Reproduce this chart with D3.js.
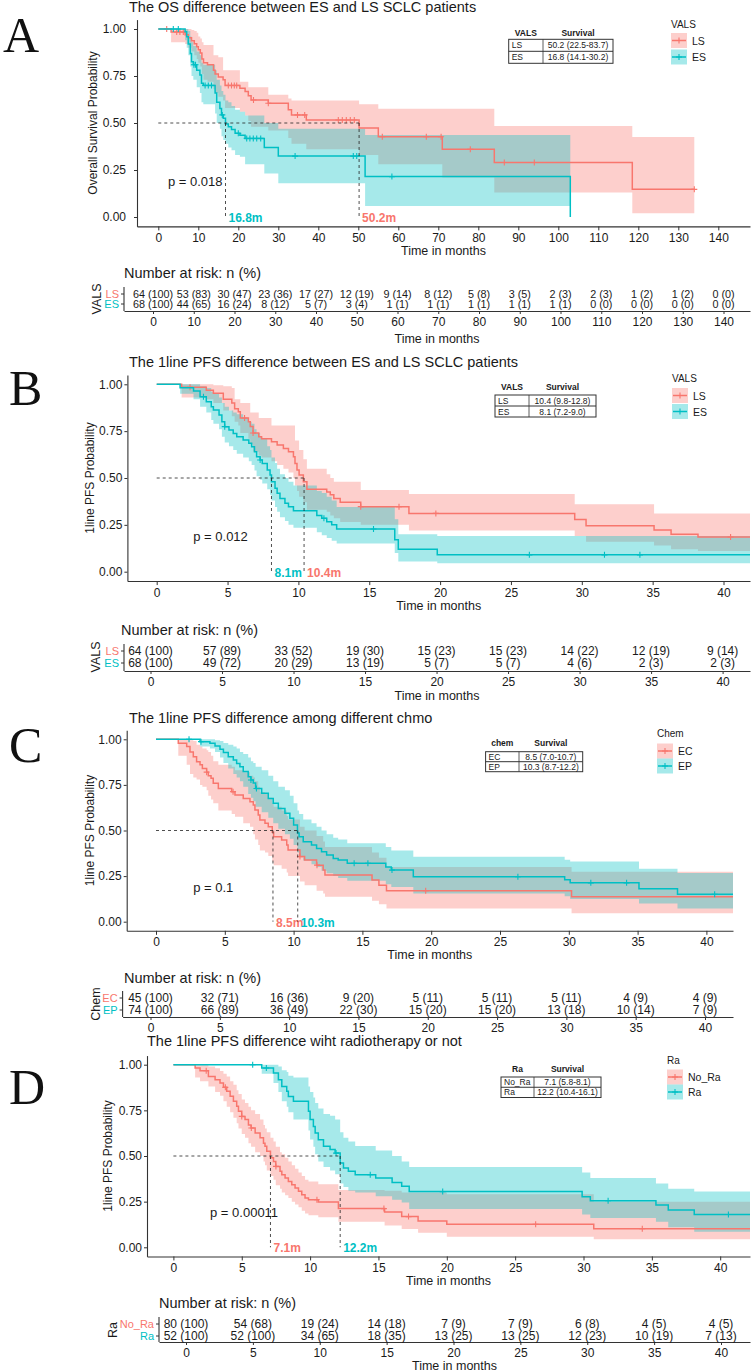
<!DOCTYPE html>
<html>
<head>
<meta charset="utf-8">
<script src="https://cdn.jsdelivr.net/npm/d3@7"></script>
<style>
  body { margin: 0; background: #fff; }
  svg { display: block; }
  text { font-family: "Liberation Sans", Arial, Helvetica, sans-serif; fill: #1a1a1a; }
</style>
</head>
<body>
<svg id="chart" width="752" height="1372"></svg>
<script>
// ---------- data: panel A, OS by stage ----------
var aTicks = [0, 10, 20, 30, 40, 50, 60, 70, 80, 90, 100, 110, 120, 130, 140];
var aGroups = ["LS", "ES"];
var aMedian = [50.2, 16.8];
var aMedianText = ["50.2 (22.5-83.7)", "16.8 (14.1-30.2)"];
var aLsTime = [0, 3.2, 6.7, 7.5, 8.3, 9.0, 9.6, 10.0, 10.5, 10.9, 11.3, 12.3, 13.8, 14.2, 15.0, 16.2, 16.7, 20.4, 21.7, 22.5, 23.2, 27.5, 32.5, 33.3, 37.0, 50.2, 55.0, 71.0, 84.0, 118.5];
var aLsSurv = [1, 0.984, 0.969, 0.953, 0.937, 0.921, 0.905, 0.889, 0.873, 0.84, 0.82, 0.81, 0.78, 0.76, 0.745, 0.73, 0.70, 0.685, 0.667, 0.645, 0.622, 0.605, 0.57, 0.543, 0.516, 0.473, 0.427, 0.36, 0.29, 0.147];
var aLsLow = [1, 0.93, 0.92, 0.90, 0.88, 0.86, 0.84, 0.82, 0.80, 0.76, 0.73, 0.72, 0.68, 0.66, 0.64, 0.62, 0.58, 0.56, 0.54, 0.51, 0.48, 0.46, 0.42, 0.39, 0.36, 0.33, 0.28, 0.21, 0.13, 0.02];
var aLsUp = [1, 1, 1, 1, 0.995, 0.99, 0.98, 0.96, 0.95, 0.93, 0.915, 0.915, 0.86, 0.86, 0.85, 0.78, 0.78, 0.72, 0.72, 0.69, 0.69, 0.65, 0.63, 0.62, 0.62, 0.60, 0.576, 0.576, 0.484, 0.425];
var aLsEnd = 134;
var aLsCens = [2.1, 4.6, 5.4, 6.25, 17.5, 18.3, 19.0, 19.6, 23.8, 27.5, 34.8, 36.6, 45, 46, 47, 48, 49, 56, 67, 70.7, 78, 86.5, 94, 134];
var aEsTime = [0, 6.7, 7.1, 7.5, 8.0, 8.3, 8.75, 9.6, 10.4, 10.8, 11.25, 14.2, 14.6, 15.4, 15.8, 16.25, 16.8, 17.5, 18.3, 19.2, 20.4, 21.7, 26.5, 30.0, 51.7, 103];
var aEsSurv = [1, 0.985, 0.959, 0.92, 0.87, 0.826, 0.81, 0.78, 0.755, 0.711, 0.70, 0.66, 0.61, 0.577, 0.543, 0.525, 0.495, 0.48, 0.465, 0.445, 0.435, 0.418, 0.37, 0.324, 0.215, 0];
var aEsLow = [1, 0.94, 0.90, 0.86, 0.80, 0.75, 0.73, 0.69, 0.66, 0.61, 0.60, 0.55, 0.50, 0.47, 0.43, 0.41, 0.39, 0.37, 0.355, 0.33, 0.32, 0.28, 0.232, 0.18, 0.058, null];
var aEsUp = [1, 1, 1, 0.99, 0.96, 0.93, 0.91, 0.88, 0.86, 0.82, 0.81, 0.78, 0.73, 0.70, 0.67, 0.65, 0.62, 0.61, 0.59, 0.57, 0.56, 0.54, 0.50, 0.47, 0.436, null];
var aEsEnd = 103;
var aEsCens = [3.75, 5.0, 8.9, 9.3, 11.7, 12.5, 13.3, 16.0, 20.0, 22.1, 22.9, 23.75, 24.6, 25.6, 34.2, 48.75, 49.6, 58.4];
var aRiskTimes = [0, 10, 20, 30, 40, 50, 60, 70, 80, 90, 100, 110, 120, 130, 140];
var aRiskLsN = [64, 53, 30, 23, 17, 12, 9, 8, 5, 3, 2, 2, 1, 1, 0];
var aRiskLsPct = [100, 83, 47, 36, 27, 19, 14, 12, 8, 5, 3, 3, 2, 2, 0];
var aRiskEsN = [68, 44, 16, 8, 5, 3, 1, 1, 1, 1, 1, 0, 0, 0, 0];
var aRiskEsPct = [100, 65, 24, 12, 7, 4, 1, 1, 1, 1, 1, 0, 0, 0, 0];

// ---------- data: panel B, 1line PFS by stage ----------
var bTicks = [0, 5, 10, 15, 20, 25, 30, 35, 40];
var bGroups = ["LS", "ES"];
var bMedian = [10.4, 8.1];
var bMedianText = ["10.4 (9.8-12.8)", "8.1 (7.2-9.0)"];
var bLsTime = [0, 1.76, 3.5, 4.0, 4.7, 5.3, 5.5, 5.76, 5.9, 6.47, 6.6, 6.8, 7.2, 7.4, 8.1, 8.5, 8.94, 9.3, 9.65, 9.76, 9.9, 10.05, 10.35, 10.6, 12.0, 12.25, 12.5, 12.95, 14.4, 17.8, 29.5, 30.3, 35.1, 36.3, 38.2];
var bLsSurv = [1, 0.984, 0.968, 0.952, 0.92, 0.90, 0.87, 0.854, 0.82, 0.80, 0.775, 0.74, 0.72, 0.71, 0.694, 0.676, 0.658, 0.64, 0.614, 0.578, 0.543, 0.516, 0.48, 0.44, 0.425, 0.41, 0.39, 0.37, 0.347, 0.311, 0.278, 0.245, 0.222, 0.20, 0.185];
var bLsLow = [1, 0.93, 0.92, 0.90, 0.86, 0.83, 0.80, 0.78, 0.74, 0.71, 0.68, 0.64, 0.62, 0.61, 0.59, 0.57, 0.55, 0.53, 0.50, 0.46, 0.43, 0.40, 0.37, 0.33, 0.32, 0.30, 0.285, 0.265, 0.25, 0.22, 0.19, 0.16, 0.14, 0.12, 0.11];
var bLsUp = [1, 1, 1, 0.995, 0.99, 0.98, 0.92, 0.92, 0.90, 0.90, 0.85, 0.85, 0.82, 0.82, 0.78, 0.78, 0.78, 0.78, 0.78, 0.70, 0.70, 0.65, 0.60, 0.55, 0.52, 0.50, 0.48, 0.48, 0.436, 0.415, 0.36, 0.36, 0.31, 0.31, 0.31];
var bLsEnd = 43;
var bLsCens = [2.35, 6.2, 6.8, 14.4, 17.1, 19.7, 40.5];
var bEsTime = [0, 1.65, 2.6, 3.06, 3.5, 3.85, 4.0, 4.4, 4.6, 4.8, 5.1, 5.4, 5.65, 6.1, 6.5, 6.7, 6.9, 7.05, 7.3, 7.45, 7.8, 8.0, 8.1, 8.35, 8.5, 8.7, 9.05, 9.3, 9.65, 11.3, 11.65, 12.0, 12.35, 12.7, 16.8, 17.05, 19.8];
var bEsSurv = [1, 0.982, 0.964, 0.934, 0.907, 0.88, 0.863, 0.836, 0.80, 0.774, 0.756, 0.738, 0.72, 0.703, 0.685, 0.667, 0.64, 0.614, 0.596, 0.578, 0.543, 0.516, 0.48, 0.445, 0.418, 0.39, 0.365, 0.347, 0.325, 0.30, 0.285, 0.267, 0.25, 0.228, 0.17, 0.12, 0.09];
var bEsLow = [1, 0.95, 0.92, 0.88, 0.85, 0.81, 0.79, 0.76, 0.72, 0.69, 0.67, 0.65, 0.63, 0.61, 0.59, 0.57, 0.54, 0.51, 0.49, 0.47, 0.44, 0.41, 0.38, 0.345, 0.32, 0.29, 0.27, 0.25, 0.235, 0.21, 0.195, 0.18, 0.165, 0.15, 0.10, 0.055, 0.045];
var bEsUp = [1, 1, 1, 0.99, 0.98, 0.96, 0.95, 0.93, 0.90, 0.88, 0.86, 0.85, 0.84, 0.82, 0.80, 0.79, 0.76, 0.74, 0.72, 0.71, 0.67, 0.65, 0.61, 0.58, 0.55, 0.52, 0.50, 0.48, 0.46, 0.43, 0.42, 0.40, 0.38, 0.345, 0.28, 0.20, 0.19];
var bEsEnd = 43;
var bEsCens = [3.3, 4.8, 7.3, 11.8, 15.3, 26.3, 31.6, 34.1];
var bRiskTimes = [0, 5, 10, 15, 20, 25, 30, 35, 40];
var bRiskLsN = [64, 57, 33, 19, 15, 15, 14, 12, 9];
var bRiskLsPct = [100, 89, 52, 30, 23, 23, 22, 19, 14];
var bRiskEsN = [68, 49, 20, 13, 5, 5, 4, 2, 2];
var bRiskEsPct = [100, 72, 29, 19, 7, 7, 6, 3, 3];

// ---------- data: panel C, 1line PFS by chemo ----------
var cTicks = [0, 5, 10, 15, 20, 25, 30, 35, 40];
var cGroups = ["EC", "EP"];
var cMedian = [8.5, 10.3];
var cMedianText = ["8.5 (7.0-10.7)", "10.3 (8.7-12.2)"];
var cEcTime = [0, 1.62, 2.23, 2.47, 2.71, 2.95, 3.2, 3.37, 3.68, 3.8, 4.0, 4.16, 4.53, 5.5, 5.74, 6.34, 6.83, 7.07, 7.19, 7.43, 7.55, 7.92, 8.16, 8.45, 8.55, 9.13, 9.5, 9.6, 10.46, 10.8, 11.67, 12.15, 12.28, 15.7, 16.2, 16.75, 30.2];
var cEcSurv = [1, 0.978, 0.96, 0.93, 0.905, 0.877, 0.86, 0.84, 0.82, 0.80, 0.786, 0.759, 0.73, 0.713, 0.695, 0.676, 0.658, 0.64, 0.612, 0.585, 0.558, 0.54, 0.52, 0.49, 0.466, 0.448, 0.42, 0.393, 0.357, 0.338, 0.31, 0.283, 0.256, 0.228, 0.20, 0.17, 0.137];
var cEcLow = [1, 0.91, 0.86, 0.81, 0.79, 0.78, 0.75, 0.74, 0.72, 0.69, 0.67, 0.65, 0.61, 0.59, 0.576, 0.54, 0.52, 0.48, 0.45, 0.42, 0.39, 0.38, 0.36, 0.33, 0.31, 0.29, 0.27, 0.25, 0.22, 0.20, 0.17, 0.155, 0.137, 0.115, 0.095, 0.073, 0.046];
var cEcUp = [1, 1, 1, 0.995, 0.99, 0.97, 0.96, 0.95, 0.94, 0.93, 0.91, 0.88, 0.86, 0.85, 0.83, 0.82, 0.80, 0.79, 0.77, 0.74, 0.71, 0.70, 0.68, 0.65, 0.63, 0.61, 0.58, 0.56, 0.52, 0.50, 0.47, 0.44, 0.41, 0.38, 0.35, 0.30, 0.274];
var cEcEnd = 43;
var cEcCens = [3.68, 5.6, 10.46, 11.7, 19.6];
var cEpTime = [0, 3.2, 3.92, 4.29, 4.65, 4.9, 5.25, 5.62, 5.86, 6.1, 6.34, 6.7, 6.9, 7.07, 7.24, 7.68, 8.16, 8.52, 8.89, 9.37, 9.73, 10.0, 10.28, 10.4, 10.7, 11.3, 11.67, 12.03, 12.4, 12.88, 13.24, 13.9, 16.7, 17.1, 18.7, 29.7, 30.1, 35.1, 37.9];
var cEpSurv = [1, 0.987, 0.978, 0.963, 0.945, 0.927, 0.905, 0.887, 0.868, 0.85, 0.823, 0.795, 0.777, 0.76, 0.73, 0.704, 0.676, 0.649, 0.62, 0.594, 0.567, 0.53, 0.486, 0.466, 0.439, 0.42, 0.402, 0.384, 0.366, 0.347, 0.338, 0.32, 0.30, 0.283, 0.247, 0.23, 0.213, 0.18, 0.15];
var cEpLow = [1, 0.96, 0.95, 0.93, 0.90, 0.87, 0.84, 0.81, 0.79, 0.77, 0.74, 0.70, 0.68, 0.66, 0.63, 0.60, 0.57, 0.54, 0.51, 0.48, 0.455, 0.42, 0.38, 0.36, 0.335, 0.315, 0.30, 0.28, 0.265, 0.25, 0.24, 0.225, 0.205, 0.19, 0.155, 0.14, 0.125, 0.10, 0.073];
var cEpUp = [1, 1, 1, 0.995, 0.99, 0.98, 0.97, 0.96, 0.95, 0.93, 0.92, 0.90, 0.88, 0.87, 0.85, 0.83, 0.80, 0.77, 0.74, 0.72, 0.69, 0.65, 0.61, 0.59, 0.56, 0.54, 0.52, 0.50, 0.48, 0.46, 0.45, 0.43, 0.41, 0.39, 0.356, 0.34, 0.33, 0.29, 0.267];
var cEpEnd = 43;
var cEpCens = [2.4, 3.27, 6.9, 7.3, 14.4, 15.4, 17.15, 26.3, 31.6, 34.2, 40.6];
var cRiskTimes = [0, 5, 10, 15, 20, 25, 30, 35, 40];
var cRiskEcN = [45, 32, 16, 9, 5, 5, 5, 4, 4];
var cRiskEcPct = [100, 71, 36, 20, 11, 11, 11, 9, 9];
var cRiskEpN = [74, 66, 36, 22, 15, 15, 13, 10, 7];
var cRiskEpPct = [100, 89, 49, 30, 20, 20, 18, 14, 9];

// ---------- data: panel D, 1line PFS by radiotherapy ----------
var dTicks = [0, 5, 10, 15, 20, 25, 30, 35, 40];
var dGroups = ["No_Ra", "Ra"];
var dMedian = [7.1, 12.2];
var dMedianText = ["7.1 (5.8-8.1)", "12.2 (10.4-16.1)"];
var dNoTime = [0, 1.59, 1.95, 2.56, 3.05, 3.41, 3.66, 3.9, 4.15, 4.39, 4.63, 4.76, 5.0, 5.24, 5.49, 5.68, 5.98, 6.34, 6.59, 6.7, 6.83, 7.1, 7.32, 7.49, 7.8, 7.93, 8.17, 8.41, 8.66, 8.9, 9.15, 9.39, 9.63, 9.88, 10.6, 12.07, 15.45, 16.7, 17.9, 20.0, 30.75];
var dNoSurv = [1, 0.982, 0.967, 0.936, 0.918, 0.90, 0.876, 0.854, 0.827, 0.80, 0.772, 0.745, 0.717, 0.70, 0.67, 0.653, 0.626, 0.60, 0.57, 0.553, 0.526, 0.49, 0.47, 0.443, 0.416, 0.398, 0.38, 0.361, 0.343, 0.325, 0.307, 0.288, 0.27, 0.26, 0.248, 0.212, 0.193, 0.168, 0.144, 0.126, 0.102];
var dNoLow = [1, 0.93, 0.91, 0.88, 0.85, 0.83, 0.80, 0.77, 0.74, 0.71, 0.68, 0.65, 0.62, 0.60, 0.57, 0.55, 0.52, 0.50, 0.47, 0.45, 0.42, 0.39, 0.37, 0.34, 0.32, 0.30, 0.285, 0.27, 0.25, 0.235, 0.22, 0.20, 0.185, 0.175, 0.165, 0.14, 0.12, 0.10, 0.08, 0.058, 0.044];
var dNoUp = [1, 1, 1, 0.99, 0.98, 0.965, 0.95, 0.935, 0.91, 0.89, 0.86, 0.84, 0.81, 0.79, 0.77, 0.75, 0.73, 0.70, 0.67, 0.65, 0.63, 0.60, 0.58, 0.55, 0.52, 0.51, 0.49, 0.47, 0.45, 0.43, 0.41, 0.39, 0.37, 0.36, 0.345, 0.314, 0.31, 0.30, 0.30, 0.29, 0.25];
var dNoEnd = 43;
var dNoCens = [2.4, 3.8, 5.0, 5.7, 7.5, 10.5, 15.4, 17.2, 26.5, 34.3];
var dRaTime = [0, 6.46, 7.32, 7.68, 7.93, 8.29, 8.41, 8.78, 9.88, 10.0, 10.24, 10.37, 10.6, 10.98, 11.46, 11.83, 12.2, 12.44, 12.8, 13.3, 14.8, 16.0, 16.7, 17.25, 29.9, 30.5, 35.3, 36.2, 38.1];
var dRaSurv = [1, 0.982, 0.954, 0.918, 0.88, 0.854, 0.826, 0.80, 0.745, 0.70, 0.662, 0.626, 0.589, 0.553, 0.535, 0.516, 0.462, 0.434, 0.416, 0.398, 0.38, 0.355, 0.334, 0.305, 0.277, 0.255, 0.232, 0.204, 0.18];
var dRaLow = [1, 0.95, 0.90, 0.85, 0.80, 0.77, 0.74, 0.70, 0.64, 0.59, 0.55, 0.51, 0.47, 0.44, 0.42, 0.40, 0.35, 0.33, 0.31, 0.30, 0.28, 0.26, 0.245, 0.21, 0.18, 0.16, 0.14, 0.11, 0.085];
var dRaUp = [1, 1, 1, 0.99, 0.97, 0.96, 0.94, 0.93, 0.88, 0.85, 0.82, 0.79, 0.76, 0.73, 0.72, 0.70, 0.63, 0.60, 0.58, 0.555, 0.53, 0.50, 0.47, 0.44, 0.41, 0.38, 0.35, 0.32, 0.305];
var dRaEnd = 43;
var dRaCens = [5.8, 6.8, 11.9, 14.4, 19.7, 31.8, 40.6];
var dRiskTimes = [0, 5, 10, 15, 20, 25, 30, 35, 40];
var dRiskNoN = [80, 54, 19, 14, 7, 7, 6, 4, 4];
var dRiskNoPct = [100, 68, 24, 18, 9, 9, 8, 5, 5];
var dRiskRaN = [52, 52, 34, 18, 13, 13, 12, 10, 7];
var dRiskRaPct = [100, 100, 65, 35, 25, 25, 23, 19, 13];

// ---------- drawing ----------
var RED = "#F8766D", TEAL = "#00BFC4";
var svg = d3.select("#chart");

var bandOpacity = 0.35;

var stepAt = function(times, vals, t){
	var i = d3.bisectRight(times, t) - 1;
	return vals[Math.max(0, i)];
};

var plusPath = function(px, py, r){
	return "M" + (px - r) + "," + py + "H" + (px + r) + "M" + px + "," + (py - r) + "V" + (py + r);
};

var styleAxis = function(sel, size){
	sel.selectAll("path.domain").attr("stroke", "#333").attr("stroke-width", 1.1);
	sel.selectAll(".tick line").attr("stroke", "#333").attr("stroke-width", 1);
	sel.selectAll(".tick text").style("font-size", size + "px");
};

var drawKM = function(p){
	var base = d3.scaleLinear().domain([0, p.tickMax]).range([p.x0, p.xMax]);
	var x = d3.scaleLinear().domain([base.invert(p.left), base.invert(p.right)]).range([p.left, p.right]);
	var yb = d3.scaleLinear().domain([0, 1]).range([p.y0, p.y1]);
	var y = d3.scaleLinear().domain([-0.05, 1.05]).range([yb(-0.05), yb(1.05)]);
	var g = svg.append("g");

	var clipId = "clip" + p.letter;
	svg.append("clipPath").attr("id", clipId).append("rect")
		.attr("x", p.left).attr("y", y(1.05))
		.attr("width", p.right - p.left).attr("height", y(-0.05) - y(1.05));
	var plot = g.append("g").attr("clip-path", "url(#" + clipId + ")");

	// confidence bands
	p.groups.forEach(function(gr){
		var band = gr.time.map(function(t, i){ return {t: t, lo: gr.low[i], hi: gr.up[i]}; })
			.filter(function(d){ return d.lo != null; });
		var lb = band[band.length - 1];
		band.push({t: gr.end, lo: lb.lo, hi: lb.hi});
		plot.append("path").datum(band)
			.attr("fill", gr.color).attr("fill-opacity", bandOpacity)
			.attr("d", d3.area().curve(d3.curveStepAfter)
				.x(function(d){ return x(d.t); })
				.y0(function(d){ return y(d.lo); })
				.y1(function(d){ return y(d.hi); }));
	});

	// survival curves
	p.groups.forEach(function(gr){
		var pts = gr.time.map(function(t, i){ return {t: t, s: gr.surv[i]}; });
		pts.push({t: gr.end, s: gr.surv[gr.surv.length - 1]});
		plot.append("path").datum(pts)
			.attr("fill", "none").attr("stroke", gr.color).attr("stroke-width", 1.5)
			.attr("d", d3.line().curve(d3.curveStepAfter)
				.x(function(d){ return x(d.t); })
				.y(function(d){ return y(d.s); }));
		plot.append("path")
			.attr("fill", "none").attr("stroke", gr.color).attr("stroke-width", 1.1)
			.attr("d", gr.cens.map(function(c){
				return plusPath(x(c), y(stepAt(gr.time, gr.surv, c)), 3);
			}).join(""));
	});

	// median lines
	var mMax = d3.max(p.groups, function(gr){ return gr.median; });
	g.append("line")
		.attr("x1", x(0)).attr("x2", x(mMax)).attr("y1", y(0.5)).attr("y2", y(0.5))
		.attr("stroke", "#222").attr("stroke-width", 0.8).attr("stroke-dasharray", "3,3");
	p.groups.forEach(function(gr){
		g.append("line")
			.attr("x1", x(gr.median)).attr("x2", x(gr.median)).attr("y1", y(0.5)).attr("y2", y(0))
			.attr("stroke", "#222").attr("stroke-width", 0.8).attr("stroke-dasharray", "3,3");
		g.append("text").text(gr.median + "m")
			.attr("x", x(gr.median) + 3).attr("y", y(0) + 1)
			.attr("dominant-baseline", "central")
			.attr("font-size", 12).attr("font-weight", "bold")
			.style("fill", gr.color);
	});

	// p value
	g.append("text").text(p.pval)
		.attr("x", x(p.pvalT)).attr("y", y(p.pvalS))
		.attr("dominant-baseline", "central").attr("font-size", 13);

	// axes
	var xa = g.append("g").attr("transform", "translate(0," + y(-0.05) + ")")
		.call(d3.axisBottom(x).tickValues(p.ticks).tickSize(4).tickPadding(3).tickSizeOuter(0));
	styleAxis(xa, 12);
	var ya = g.append("g").attr("transform", "translate(" + p.left + ",0)")
		.call(d3.axisLeft(y).tickValues([0, 0.25, 0.5, 0.75, 1]).tickFormat(d3.format(".2f"))
			.tickSize(3).tickPadding(p.yPad).tickSizeOuter(0));
	styleAxis(ya, 12);

	g.append("text").text("Time in months")
		.attr("x", (p.left + p.right) / 2).attr("y", y(-0.05) + 24.5)
		.attr("text-anchor", "middle").attr("dominant-baseline", "central").attr("font-size", 12.5);
	g.append("text").text(p.yLabel)
		.attr("transform", "translate(" + p.yLabelX + "," + y(0.5) + ") rotate(-90)")
		.attr("text-anchor", "middle").attr("dominant-baseline", "central").attr("font-size", 12);

	// title and letter
	g.append("text").text(p.title)
		.attr("x", p.titleX).attr("y", p.titleY)
		.attr("dominant-baseline", "central").attr("font-size", 14.5);
	g.append("text").text(p.letter)
		.attr("x", p.letterX).attr("y", p.letterY)
		.style("font-family", "'Liberation Serif', 'Times New Roman', serif")
		.style("font-size", "50px").style("fill", "#111");

	// legend
	var lg = p.legend;
	g.append("text").text(lg.title)
		.attr("x", lg.x).attr("y", lg.titleY)
		.attr("dominant-baseline", "central").attr("font-size", 10);
	p.groups.forEach(function(gr, i){
		var cy = lg.rowY[i];
		g.append("rect").attr("x", lg.x).attr("y", cy - 7.5).attr("width", 16).attr("height", 15)
			.attr("fill", gr.color).attr("fill-opacity", bandOpacity);
		g.append("line").attr("x1", lg.x + 1).attr("x2", lg.x + 15).attr("y1", cy).attr("y2", cy)
			.attr("stroke", gr.color).attr("stroke-width", 1.5);
		g.append("path").attr("d", plusPath(lg.x + 8, cy, 3))
			.attr("stroke", gr.color).attr("stroke-width", 1.1);
		g.append("text").text(gr.name)
			.attr("x", lg.x + 21).attr("y", cy)
			.attr("dominant-baseline", "central").attr("font-size", 10.5);
	});

	// median survival table
	var tb = p.table;
	var rowH = (tb.bottom - tb.top) / 2;
	g.append("text").text(tb.head)
		.attr("x", (tb.x0 + tb.sep) / 2).attr("y", tb.headY)
		.attr("text-anchor", "middle").attr("dominant-baseline", "central")
		.attr("font-size", 8.5).attr("font-weight", "bold");
	g.append("text").text("Survival")
		.attr("x", (tb.sep + tb.x1) / 2).attr("y", tb.headY)
		.attr("text-anchor", "middle").attr("dominant-baseline", "central")
		.attr("font-size", 8.5).attr("font-weight", "bold");
	g.append("rect").attr("x", tb.x0).attr("y", tb.top)
		.attr("width", tb.x1 - tb.x0).attr("height", tb.bottom - tb.top)
		.attr("fill", "none").attr("stroke", "#333").attr("stroke-width", 1);
	g.append("line").attr("x1", tb.x0).attr("x2", tb.x1)
		.attr("y1", tb.top + rowH).attr("y2", tb.top + rowH)
		.attr("stroke", "#333").attr("stroke-width", 1);
	g.append("line").attr("x1", tb.sep).attr("x2", tb.sep)
		.attr("y1", tb.top).attr("y2", tb.bottom)
		.attr("stroke", "#333").attr("stroke-width", 0.8);
	p.groups.forEach(function(gr, i){
		var cy = tb.top + rowH * (i + 0.5);
		g.append("text").text(gr.name)
			.attr("x", tb.x0 + 3).attr("y", cy)
			.attr("dominant-baseline", "central").attr("font-size", 8.5);
		g.append("text").text(gr.medianText)
			.attr("x", (tb.sep + tb.x1) / 2).attr("y", cy)
			.attr("text-anchor", "middle").attr("dominant-baseline", "central").attr("font-size", 8.5);
	});
};

var drawRisk = function(r){
	var x = d3.scaleLinear().domain([0, r.tickMax]).range([r.x0, r.xMax]);
	var xFull = x.copy().domain([x.invert(r.left), x.invert(r.right)]).range([r.left, r.right]);
	var g = svg.append("g");

	g.append("text").text("Number at risk: n (%)")
		.attr("x", r.titleX).attr("y", r.titleY)
		.attr("dominant-baseline", "central").attr("font-size", 14.5);

	var xa = g.append("g").attr("transform", "translate(0," + r.axisY + ")")
		.call(d3.axisBottom(xFull).tickValues(r.ticks).tickSize(3).tickPadding(3).tickSizeOuter(0));
	styleAxis(xa, 12);

	g.append("line").attr("x1", r.left).attr("x2", r.left)
		.attr("y1", r.rowY[0] - 7).attr("y2", r.axisY)
		.attr("stroke", "#333").attr("stroke-width", 1.1);

	r.rows.forEach(function(row, i){
		var cy = r.rowY[i];
		g.append("line").attr("x1", r.left - 3).attr("x2", r.left).attr("y1", cy).attr("y2", cy)
			.attr("stroke", "#333").attr("stroke-width", 1);
		g.append("text").text(row.name)
			.attr("x", r.left - 5).attr("y", cy)
			.attr("text-anchor", "end").attr("dominant-baseline", "central")
			.attr("font-size", 11).style("fill", row.color);
		r.ticks.forEach(function(t, j){
			g.append("text").text(row.n[j] + " (" + row.pct[j] + ")")
				.attr("x", x(t)).attr("y", cy)
				.attr("text-anchor", "middle").attr("dominant-baseline", "central")
				.attr("font-size", r.numSize);
		});
	});

	g.append("text").text(r.strata)
		.attr("transform", "translate(" + r.strataX + "," + d3.mean(r.rowY) + ") rotate(-90)")
		.attr("text-anchor", "middle").attr("dominant-baseline", "central").attr("font-size", 12.5);

	if (r.xLabelY) {
		g.append("text").text("Time in months")
			.attr("x", (r.left + r.right) / 2).attr("y", r.xLabelY)
			.attr("text-anchor", "middle").attr("dominant-baseline", "central").attr("font-size", 12.5);
	}
};

// ---------- panels ----------
drawKM({
	letter: "A", letterX: 3, letterY: 52,
	title: "The OS difference between ES and LS SCLC patients", titleX: 129, titleY: 7,
	yLabel: "Overall Survival Probability", yLabelX: 93, yPad: 8,
	left: 137, right: 750, tickMax: 140, x0: 158.3, xMax: 718.3, ticks: aTicks,
	y0: 217, y1: 29,
	pval: "p = 0.018", pvalT: 2.4, pvalS: 0.19,
	legend: {title: "VALS", x: 671, titleY: 24, rowY: [40.5, 57]},
	table: {head: "VALS", x0: 508.7, x1: 613, sep: 543, headY: 33, top: 39.3, bottom: 63.3},
	groups: [
		{name: aGroups[0], color: RED, time: aLsTime, surv: aLsSurv, low: aLsLow, up: aLsUp, end: aLsEnd, cens: aLsCens, median: aMedian[0], medianText: aMedianText[0]},
		{name: aGroups[1], color: TEAL, time: aEsTime, surv: aEsSurv, low: aEsLow, up: aEsUp, end: aEsEnd, cens: aEsCens, median: aMedian[1], medianText: aMedianText[1]}
	]
});
drawRisk({
	titleX: 124, titleY: 273, rowY: [294, 304], axisY: 311, xLabelY: 339, numSize: 10.8,
	left: 124, right: 750, tickMax: 140, x0: 153, xMax: 723.5, ticks: aRiskTimes,
	strata: "VALS", strataX: 97,
	rows: [
		{name: aGroups[0], color: RED, n: aRiskLsN, pct: aRiskLsPct},
		{name: aGroups[1], color: TEAL, n: aRiskEsN, pct: aRiskEsPct}
	]
});

drawKM({
	letter: "B", letterX: 9, letterY: 405,
	title: "The 1line PFS difference between ES and LS SCLC patients", titleX: 129, titleY: 362,
	yLabel: "1line PFS Probability", yLabelX: 90, yPad: 2,
	left: 127.4, right: 750, tickMax: 40, x0: 156.7, xMax: 723.5, ticks: bTicks,
	y0: 571.7, y1: 384.3,
	pval: "p = 0.012", pvalT: 2.58, pvalS: 0.187,
	legend: {title: "VALS", x: 672, titleY: 378, rowY: [395.5, 411.5]},
	table: {head: "VALS", x0: 495, x1: 596, sep: 529, headY: 387, top: 395, bottom: 417},
	groups: [
		{name: bGroups[0], color: RED, time: bLsTime, surv: bLsSurv, low: bLsLow, up: bLsUp, end: bLsEnd, cens: bLsCens, median: bMedian[0], medianText: bMedianText[0]},
		{name: bGroups[1], color: TEAL, time: bEsTime, surv: bEsSurv, low: bEsLow, up: bEsUp, end: bEsEnd, cens: bEsCens, median: bMedian[1], medianText: bMedianText[1]}
	]
});
drawRisk({
	titleX: 121, titleY: 630, rowY: [651, 663], axisY: 671, xLabelY: 696, numSize: 12,
	left: 124, right: 750, tickMax: 40, x0: 150.5, xMax: 722.6, ticks: bRiskTimes,
	strata: "VALS", strataX: 96,
	rows: [
		{name: bGroups[0], color: RED, n: bRiskLsN, pct: bRiskLsPct},
		{name: bGroups[1], color: TEAL, n: bRiskEsN, pct: bRiskEsPct}
	]
});

drawKM({
	letter: "C", letterX: 9, letterY: 762,
	title: "The 1line PFS difference among different chmo", titleX: 129, titleY: 718,
	yLabel: "1line PFS Probability", yLabelX: 90, yPad: 2,
	left: 126.7, right: 733, tickMax: 40, x0: 156, xMax: 706.4, ticks: cTicks,
	y0: 921.7, y1: 739.3,
	pval: "p = 0.1", pvalT: 2.7, pvalS: 0.19,
	legend: {title: "Chem", x: 657, titleY: 733, rowY: [751, 766]},
	table: {head: "chem", x0: 485.6, x1: 582.7, sep: 519, headY: 743, top: 751.7, bottom: 771.7},
	groups: [
		{name: cGroups[0], color: RED, time: cEcTime, surv: cEcSurv, low: cEcLow, up: cEcUp, end: cEcEnd, cens: cEcCens, median: cMedian[0], medianText: cMedianText[0]},
		{name: cGroups[1], color: TEAL, time: cEpTime, surv: cEpSurv, low: cEpLow, up: cEpUp, end: cEpEnd, cens: cEpCens, median: cMedian[1], medianText: cMedianText[1]}
	]
});
drawRisk({
	titleX: 124, titleY: 978, rowY: [998, 1010], axisY: 1017, xLabelY: null, numSize: 12,
	left: 122.6, right: 733, tickMax: 40, x0: 150.5, xMax: 705, ticks: cRiskTimes,
	strata: "Chem", strataX: 96,
	rows: [
		{name: cGroups[0], color: RED, n: cRiskEcN, pct: cRiskEcPct},
		{name: cGroups[1], color: TEAL, n: cRiskEpN, pct: cRiskEpPct}
	]
});

drawKM({
	letter: "D", letterX: 9, letterY: 1104,
	title: "The 1line PFS difference wiht radiotherapy or not", titleX: 147, titleY: 1041,
	yLabel: "1line PFS Probability", yLabelX: 108, yPad: 2,
	left: 147, right: 750, tickMax: 40, x0: 173.4, xMax: 720.2, ticks: dTicks,
	y0: 1247.3, y1: 1064.7,
	pval: "p = 0.00011", pvalT: 2.68, pvalS: 0.19,
	legend: {title: "Ra", x: 667, titleY: 1060, rowY: [1077, 1092]},
	table: {head: "Ra", x0: 501, x1: 601, sep: 534, headY: 1069, top: 1077, bottom: 1097.5},
	groups: [
		{name: dGroups[0], color: RED, time: dNoTime, surv: dNoSurv, low: dNoLow, up: dNoUp, end: dNoEnd, cens: dNoCens, median: dMedian[0], medianText: dMedianText[0]},
		{name: dGroups[1], color: TEAL, time: dRaTime, surv: dRaSurv, low: dRaLow, up: dRaUp, end: dRaEnd, cens: dRaCens, median: dMedian[1], medianText: dMedianText[1]}
	]
});
drawRisk({
	titleX: 159, titleY: 1303, rowY: [1324, 1336], axisY: 1342, xLabelY: 1366, numSize: 12,
	left: 159, right: 750, tickMax: 40, x0: 186, xMax: 721, ticks: dRiskTimes,
	strata: "Ra", strataX: 113,
	rows: [
		{name: dGroups[0], color: RED, n: dRiskNoN, pct: dRiskNoPct},
		{name: dGroups[1], color: TEAL, n: dRiskRaN, pct: dRiskRaPct}
	]
});
</script>
</body>
</html>
